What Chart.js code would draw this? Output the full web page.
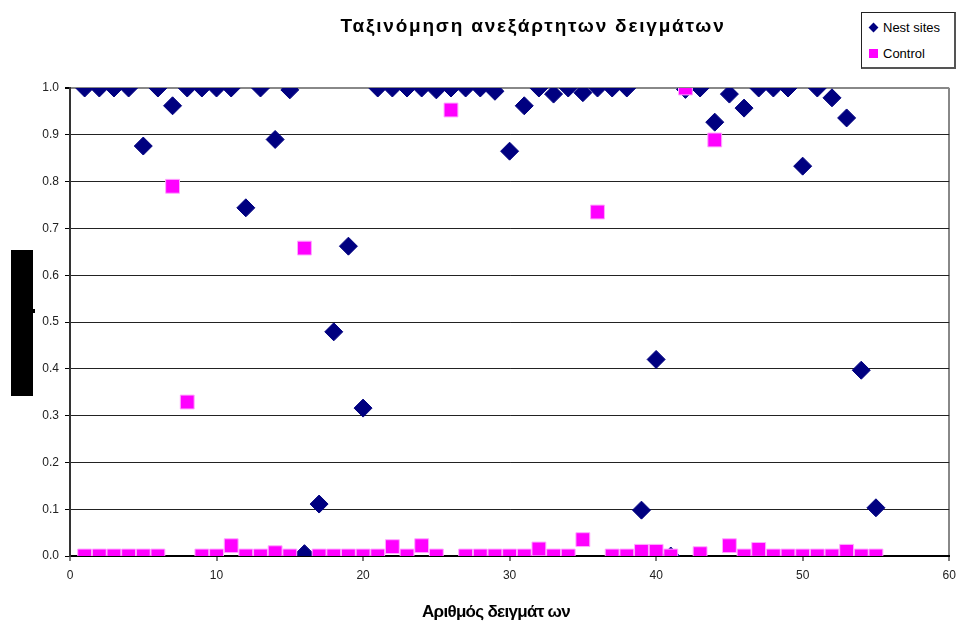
<!DOCTYPE html>
<html>
<head>
<meta charset="utf-8">
<script src="https://cdn.jsdelivr.net/npm/chart.js@4"></script>
<style>
  body { margin: 0; background: #fff; }
  #wrap { position: relative; width: 960px; height: 621px; }
  #legend {
    position: absolute; left: 861px; top: 12px; width: 92px; height: 54px;
    border: 1px solid #222; border-right: 2px solid #555; border-bottom: 2px solid #555;
    background: #fff; font: 13px "Liberation Sans", Arial, sans-serif; color: #000;
  }
  .item { position: absolute; left: 4px; height: 16px; line-height: 16px; }
  .item span { position: absolute; left: 17px; white-space: nowrap; }
  .dia { position: absolute; left: 4px; top: 4px; width: 7px; height: 7px; background: #000080; transform: rotate(45deg); }
  .sq { position: absolute; left: 3px; top: 3px; width: 9px; height: 9px; background: #ff00ff; }
</style>
</head>
<body>
<div id="wrap">
  <canvas id="chart" width="960" height="621"></canvas>
  <div id="legend">
    <div class="item" style="top:7px"><i class="dia"></i><span>Nest sites</span></div>
    <div class="item" style="top:33px"><i class="sq"></i><span>Control</span></div>
  </div>
</div>
<script>
const samples = [1, 2, 3, 4, 5, 6, 7, 8, 9, 10, 11, 12, 13, 14, 15, 16, 17, 18, 19, 20,
  21, 22, 23, 24, 25, 26, 27, 28, 29, 30, 31, 32, 33, 34, 35, 36, 37, 38, 39, 40,
  41, 42, 43, 44, 45, 46, 47, 48, 49, 50, 51, 52, 53, 54, 55];

const nestSites = [1.0, 1.0, 1.0, 1.0, 0.876, 1.0, 0.962, 1.0, 1.0, 1.0,
  1.0, 0.744, 1.0, 0.89, 0.996, 0.005, 0.111, 0.479, 0.662, 0.316,
  1.0, 1.0, 1.0, 1.0, 0.996, 1.0, 1.0, 1.0, 0.993, 0.865,
  0.962, 1.0, 0.987, 1.0, 0.99, 1.0, 1.0, 1.0, 0.098, 0.42,
  0.0, 0.997, 1.0, 0.927, 0.987, 0.957, 1.0, 1.0, 1.0, 0.833,
  1.0, 0.979, 0.936, 0.397, 0.103];

const control = [0.0, 0.0, 0.0, 0.0, 0.0, 0.0, 0.79, 0.329, 0.0, 0.0,
  0.022, 0.0, 0.0, 0.007, 0.0, 0.658, 0.0, 0.0, 0.0, 0.0,
  0.0, 0.02, 0.0, 0.022, 0.0, 0.953, 0.0, 0.0, 0.0, 0.0,
  0.0, 0.015, 0.0, 0.0, 0.035, 0.735, 0.0, 0.0, 0.01, 0.01,
  0.0, 1.0, 0.005, 0.889, 0.022, 0.0, 0.014, 0.0, 0.0, 0.0,
  0.0, 0.0, 0.01, 0.0, 0.0];

const chartTitle = 'Ταξινόμηση ανεξάρτητων δειγμάτων';
const xTitle = 'Αριθμός δειγμάτ ων';

const toPoints = vals => vals.map((v, i) => ({ x: samples[i], y: v }));

// titles drawn by hand (Excel centres them off the plot centre) + the blacked-out y title box
const extras = {
  id: 'extras',
  afterDraw(chart) {
    const ctx = chart.ctx;
    ctx.save();
    ctx.fillStyle = '#000';
    ctx.fillRect(11, 250, 22, 146);
    ctx.fillRect(33, 309, 2, 4);
    ctx.textAlign = 'center';
    ctx.textBaseline = 'alphabetic';
    ctx.font = 'bold 19px "Liberation Sans", Arial, sans-serif';
    ctx.letterSpacing = '1.8px';
    ctx.fillText(chartTitle, 533, 32);
    ctx.font = 'bold 17px "Liberation Sans", Arial, sans-serif';
    ctx.letterSpacing = '-0.7px';
    ctx.fillText(xTitle, 496, 617);
    ctx.restore();
  }
};

new Chart(document.getElementById('chart').getContext('2d'), {
  type: 'scatter',
  data: {
    datasets: [
      {
        label: 'Nest sites',
        data: toPoints(nestSites),
        pointStyle: 'rectRot',
        pointRadius: 9,
        pointHoverRadius: 9,
        backgroundColor: '#000080',
        borderColor: '#000080',
        borderWidth: 1,
        order: 1
      },
      {
        label: 'Control',
        data: toPoints(control),
        pointStyle: 'rect',
        pointRadius: 9.8,
        pointHoverRadius: 9.8,
        backgroundColor: '#ff00ff',
        borderColor: '#ffa8ff',
        borderWidth: 1,
        order: 0
      }
    ]
  },
  options: {
    responsive: false,
    animation: false,
    layout: { padding: { top: 88, right: 1, left: 0, bottom: 0 } },
    plugins: {
      legend: { display: false },
      tooltip: { enabled: false }
    },
    scales: {
      x: {
        type: 'linear',
        min: 0,
        max: 60,
        afterFit: s => { s.height = 65; s.paddingRight = 5; },
        ticks: {
          stepSize: 10,
          padding: 7,
          color: '#222',
          font: { family: '"Liberation Sans", Arial, sans-serif', size: 12 }
        },
        grid: {
          color: c => c.tick && c.tick.value === 60 ? '#888' : 'rgba(0,0,0,0)',
          lineWidth: 2,
          tickColor: '#000',
          tickWidth: 1,
          tickLength: 5
        },
        border: { color: '#000', width: 2 }
      },
      y: {
        min: 0,
        max: 1,
        afterFit: s => { s.width = 70; },
        ticks: {
          stepSize: 0.1,
          padding: 6,
          color: '#222',
          callback: v => v.toFixed(1),
          font: { family: '"Liberation Sans", Arial, sans-serif', size: 12 }
        },
        grid: {
          color: c => c.tick && c.tick.value === 1 ? '#888' : '#222',
          lineWidth: c => c.tick && c.tick.value === 1 ? 2 : 1,
          tickColor: '#000',
          tickLength: 5
        },
        border: { color: '#333', width: 2 }
      }
    }
  },
  plugins: [extras]
});
</script>
</body>
</html>
